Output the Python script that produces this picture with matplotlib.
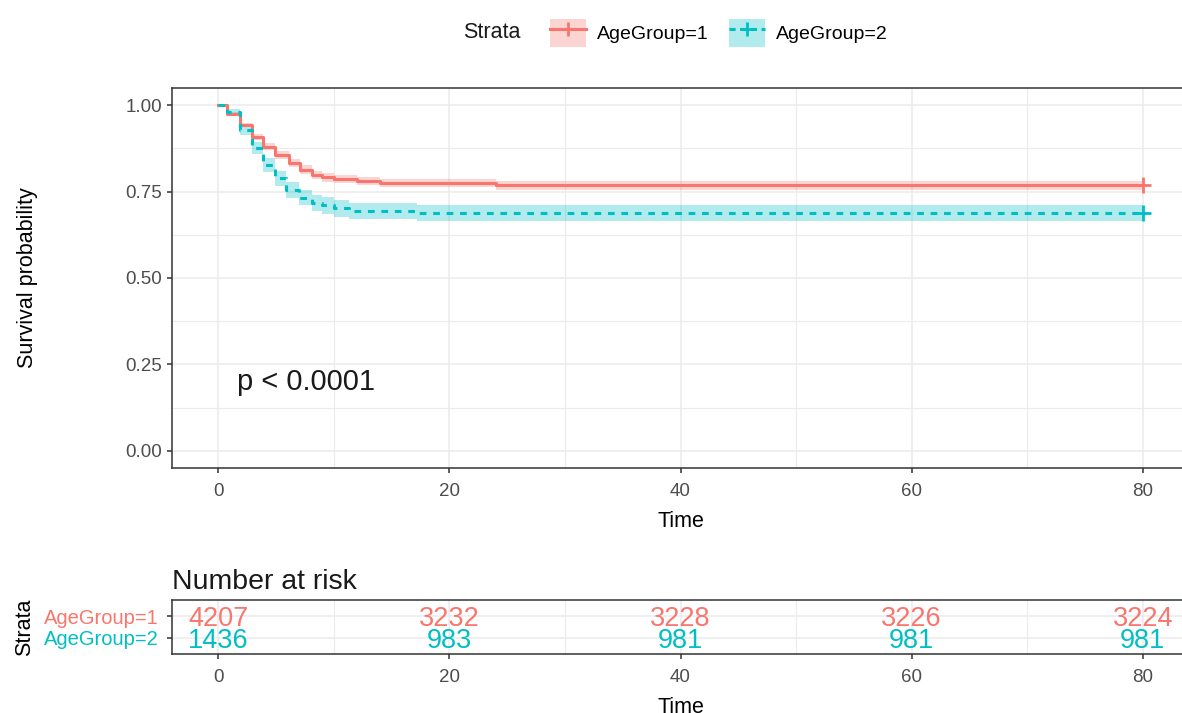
import numpy as np
import matplotlib.pyplot as plt
from matplotlib.patches import Patch
from matplotlib.lines import Line2D
from matplotlib.legend_handler import HandlerTuple

plt.rcParams['font.family'] = ['Liberation Sans', 'DejaVu Sans']

# Kaplan-Meier step estimates
time1 = [0, 0.75, 1.9, 2.9, 3.9, 4.9, 6.1, 7.1, 8.1, 9.0, 10.0, 12.0, 14.0, 24.0, 80]
surv1 = [1.0, 0.976, 0.943, 0.908, 0.880, 0.856, 0.833, 0.814, 0.799, 0.791, 0.786, 0.781, 0.775, 0.768, 0.768]
low1 = [1.0, 0.971, 0.936, 0.899, 0.870, 0.845, 0.822, 0.802, 0.787, 0.779, 0.774, 0.769, 0.763, 0.756, 0.756]
up1 = [1.0, 0.981, 0.950, 0.917, 0.890, 0.867, 0.844, 0.826, 0.811, 0.803, 0.798, 0.793, 0.787, 0.780, 0.780]

time2 = [0, 0.75, 1.9, 2.9, 3.9, 4.9, 5.9, 7.0, 8.1, 9.0, 10.0, 11.3, 17.2, 80]
surv2 = [1.0, 0.981, 0.929, 0.876, 0.826, 0.789, 0.755, 0.733, 0.718, 0.710, 0.702, 0.694, 0.688, 0.688]
low2 = [1.0, 0.974, 0.915, 0.858, 0.806, 0.767, 0.732, 0.710, 0.695, 0.686, 0.678, 0.670, 0.664, 0.664]
up2 = [1.0, 0.988, 0.943, 0.894, 0.846, 0.811, 0.778, 0.756, 0.741, 0.734, 0.726, 0.718, 0.712, 0.712]

labels = ["AgeGroup=1", "AgeGroup=2"]
colors = ["#F8766D", "#00BFC4"]

risk_times = [0, 20, 40, 60, 80]
risk1 = [4207, 3232, 3228, 3226, 3224]
risk2 = [1436, 983, 981, 981, 981]

W, H = 1182, 713
fig = plt.figure(figsize=(W / 100, H / 100), dpi=100)

def fig_rect(left, top, right, bottom):
    return [left / W, 1 - bottom / H, (right - left) / W, (bottom - top) / H]

def style_axes(ax):
    for s in ax.spines.values():
        s.set_color("#333333")
        s.set_linewidth(1.1)
    ax.tick_params(colors="#333333", labelcolor="#4D4D4D", labelsize=13.5, length=3.5, width=1.1)
    ax.tick_params(axis="x", pad=7)
    ax.set_axisbelow(True)

# main survival panel
ax = fig.add_axes(fig_rect(172, 88, 1189, 468))
ax.set_xlim(-4, 84)
ax.set_ylim(-0.05, 1.05)
ax.set_xticks([0, 20, 40, 60, 80])
ax.set_xticks([10, 30, 50, 70], minor=True)
ax.set_yticks([0, 0.25, 0.5, 0.75, 1.0])
ax.set_yticks([0.125, 0.375, 0.625, 0.875], minor=True)
ax.set_yticklabels(["0.00", "0.25", "0.50", "0.75", "1.00"])
ax.grid(which="major", color="#EBEBEB", lw=1.1)
ax.grid(which="minor", color="#EBEBEB", lw=0.8)
ax.tick_params(which="minor", length=0)
style_axes(ax)

ax.fill_between(time1, low1, up1, step="post", color=colors[0], alpha=0.3, lw=0)
ax.fill_between(time2, low2, up2, step="post", color=colors[1], alpha=0.3, lw=0)
ax.step(time1, surv1, where="post", color=colors[0], lw=2.2)
ax.step(time2, surv2, where="post", color=colors[1], lw=2.2, ls=(0, (2.2, 2.2)))
ax.plot(time1[-1], surv1[-1], marker="+", ms=11, mew=2, color=colors[0])
ax.plot(time2[-1], surv2[-1], marker="+", ms=11, mew=2, color=colors[1])

ax.text(1.6, 0.2, "p < 0.0001", fontsize=21, va="center", ha="left", color="#1a1a1a")
ax.set_xlabel("Time", fontsize=15.5, labelpad=8)
ax.set_ylabel("Survival probability", fontsize=15.5)
ax.yaxis.set_label_coords(-0.132, 0.5)

# legend on top
handles = []
for c, ls in zip(colors, ["-", (0, (2, 1.5))]):
    handles.append((Patch(facecolor=c, alpha=0.3, edgecolor="none"),
                    Line2D([], [], color=c, lw=2.2, ls=ls, marker="+", ms=10, mew=2)))
fig.legend(handles, labels, ncol=2, loc="center left", bbox_to_anchor=(540 / W, 1 - 33 / H),
           frameon=False, fontsize=14, handlelength=1.85, handleheight=1.85,
           handletextpad=0.6, columnspacing=1.0, borderpad=0,
           handler_map={tuple: HandlerTuple(ndivide=1)})
fig.text(463 / W, 1 - 33 / H, "Strata", fontsize=15.5, va="center", ha="left", color="#1a1a1a")

# risk table
rt = fig.add_axes(fig_rect(172, 600, 1189, 654))
rt.set_xlim(-4, 84)
rt.set_ylim(0.27, 2.73)
rt.set_xticks([0, 20, 40, 60, 80])
rt.set_xticks([10, 30, 50, 70], minor=True)
rt.set_yticks([2, 1])
rt.set_yticklabels(labels)
rt.grid(which="major", color="#EBEBEB", lw=1.1)
rt.grid(which="minor", axis="x", color="#EBEBEB", lw=0.8)
rt.tick_params(which="minor", length=0)
style_axes(rt)
rt.tick_params(axis="y", pad=6)
for lab, c in zip(rt.get_yticklabels(), colors):
    lab.set_color(c)
    lab.set_fontsize(14.5)
for t, n1, n2 in zip(risk_times, risk1, risk2):
    rt.text(t, 2, str(n1), color=colors[0], fontsize=19.5, ha="center", va="center_baseline")
    rt.text(t, 1, str(n2), color=colors[1], fontsize=19.5, ha="center", va="center_baseline")
rt.set_xlabel("Time", fontsize=15.5, labelpad=8)
rt.set_ylabel("Strata", fontsize=15.5)
rt.yaxis.set_label_coords(-0.135, 0.5)
rt.set_title("Number at risk", fontsize=20.5, loc="left", pad=8, color="#1a1a1a")

fig.savefig("out.png", dpi=100)
